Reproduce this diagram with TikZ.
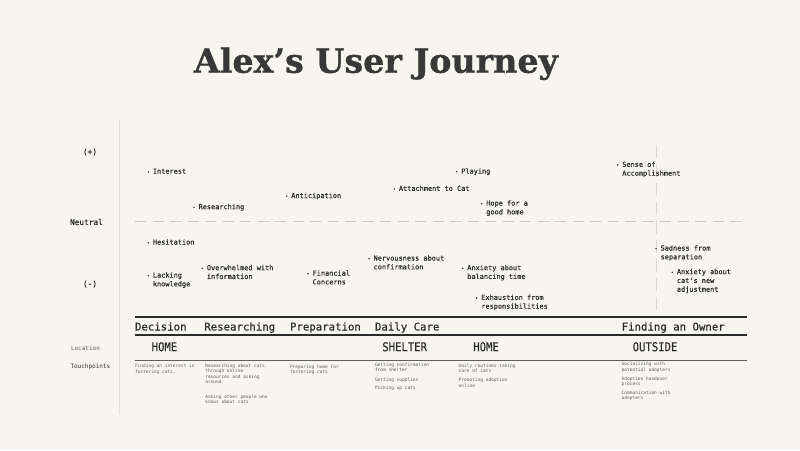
\documentclass[tikz,border=0pt]{standalone}
\usepackage{fontspec}
\usepackage{graphicx}
\newfontfamily\monofont{DejaVu Sans Mono}
\newfontfamily\monomid{DejaVu Sans Mono}[FakeBold=0.45]
\newfontfamily\slabfont{DejaVu Serif}[BoldFeatures={FakeBold=0.9}]
\definecolor{paper}{HTML}{F7F5EF}
\definecolor{ink}{HTML}{2B2B2B}
\definecolor{titleink}{HTML}{383838}
\definecolor{softink}{HTML}{606060}
\definecolor{axisgrey}{HTML}{E2DFD8}
\definecolor{dashgrey}{HTML}{CCC9C2}
\definecolor{phasegrey}{HTML}{DAD7D0}

% one emotion: name, bullet x, first-line y, text
\newcommand\feeling[4]{%
  \fill[ink] (#2,#3) circle (0.8);
  \node[feel] (#1) at (#2+4.6,#3-3.4) {#4};
}

\begin{document}
\begin{tikzpicture}[x=1pt,y=-1pt,
  every node/.style={inner sep=0pt,outer sep=0pt},
  feel/.style={anchor=north west,align=left,text=ink,
    font=\monomid\fontsize{6.9}{8.8}\selectfont},
  touch/.style={anchor=north west,align=left,text=softink,
    font=\monofont\fontsize{4.5}{5.5}\selectfont},
  sidelabel/.style={text=ink,font=\monomid\fontsize{7.8}{9}\selectfont},
  rowlabel/.style={anchor=west,font=\monofont\fontsize{6}{7}\selectfont},
  stagename/.style={anchor=base west,text=ink,
    font=\monomid\fontsize{10.7}{12}\selectfont},
  place/.style={anchor=base west,text=ink,
    font=\monomid\fontsize{10.6}{12}\selectfont}]
\useasboundingbox (0,0) rectangle (800,450);
\fill[paper] (0,0) rectangle (800,450);

% title
\node[anchor=base,text=titleink] (title) at (376,72.7)
  {\resizebox{364pt}{\height}{\slabfont\bfseries\fontsize{33.5}{40}\selectfont Alex’s User Journey}};

% axis and guide lines
\draw[axisgrey,line width=0.8] (119,120) -- (119,415);
\draw[dashgrey,line width=0.8,dash pattern=on 11 off 6.5] (135,221) -- (747,221);
\draw[phasegrey,line width=0.8,dash pattern=on 13 off 6] (656.5,145) -- (656.5,315);

% left-hand scale and row labels
\node[sidelabel] (plus) at (90,152) {(+)};
\node[sidelabel] (neutral) at (86.5,222) {Neutral};
\node[sidelabel] (minus) at (90,284) {(-)};
\node[rowlabel,text=softink] (location) at (71,348) {Location};
\node[rowlabel,text=ink] (touchpoints) at (70.5,366.5) {Touchpoints};

% positive emotions
\feeling{interest}{148.3}{172}{Interest}
\feeling{researching}{194}{207.3}{Researching}
\feeling{anticipation}{286.7}{196.2}{Anticipation}
\feeling{attachment}{394.3}{189}{Attachment to Cat}
\feeling{playing}{456.7}{171.7}{Playing}
\feeling{hope}{481.7}{203.7}{Hope for a\\good home}
\feeling{accomplishment}{617.7}{165}{Sense of\\Accomplishment}

% negative emotions
\feeling{hesitation}{148.3}{242.7}{Hesitation}
\feeling{lacking}{148.3}{275.7}{Lacking\\knowledge}
\feeling{overwhelmed}{202.3}{268.3}{Overwhelmed with\\information}
\feeling{financial}{308}{273.7}{Financial\\Concerns}
\feeling{nervousness}{369}{258.7}{Nervousness about\\confirmation}
\feeling{balancing}{462.7}{268.3}{Anxiety about\\balancing time}
\feeling{exhaustion}{476.7}{298}{Exhaustion from\\responsibilities}
\feeling{sadness}{656}{248.7}{Sadness from\\separation}
\feeling{adjustment}{672.3}{272.3}{Anxiety about\\cat's new\\adjustment}

% stage header rules
\draw[ink,line width=2.6] (135,316.8) -- (747,316.8);
\draw[ink,line width=1.3] (135,335) -- (747,335);
\draw[softink,line width=1.6] (135,360.5) -- (747,360.5);

% stages
\node[stagename] (decision) at (135,330.5) {Decision};
\node[stagename] (researchstage) at (204.3,330.5) {Researching};
\node[stagename] (preparation) at (290,330.5) {Preparation};
\node[stagename] (dailycare) at (375,330.5) {Daily Care};
\node[stagename] (finding) at (621.7,330.5) {Finding an Owner};

% locations
\node[place] (home1) at (151.7,351.2) {\scalebox{1}[1.15]{HOME}};
\node[place] (shelter) at (382.3,351.2) {\scalebox{1}[1.15]{SHELTER}};
\node[place] (home2) at (473.3,351.2) {\scalebox{1}[1.15]{HOME}};
\node[place] (outside) at (632.7,351.2) {\scalebox{1}[1.15]{OUTSIDE}};

% touchpoints
\node[touch] (tp1) at (135,364.5) {Finding an interest in\\fostering cats.};
\node[touch] (tp2a) at (205.3,364) {Researching about cats\\through online\\resources and asking\\around.};
\node[touch] (tp2b) at (205.3,394.6) {Asking other people who\\knows about cats};
\node[touch] (tp3) at (290,364.6) {Preparing home for\\fostering cats};
\node[touch] (tp4a) at (375,363) {Getting confirmation\\from shelter};
\node[touch] (tp4b) at (375,377.6) {Getting supplies};
\node[touch] (tp4c) at (375,386.2) {Picking up cats};
\node[touch] (tp5a) at (458.7,364) {Daily routines taking\\care of cats};
\node[touch] (tp5b) at (458.7,378.2) {Promoting adoption\\online};
\node[touch] (tp6a) at (621.7,362.3) {Socializing with\\potential adopters};
\node[touch] (tp6b) at (621.7,376.6) {Adoption handover\\process};
\node[touch] (tp6c) at (621.7,390.6) {Communication with\\adopters};
\end{tikzpicture}
\end{document}
